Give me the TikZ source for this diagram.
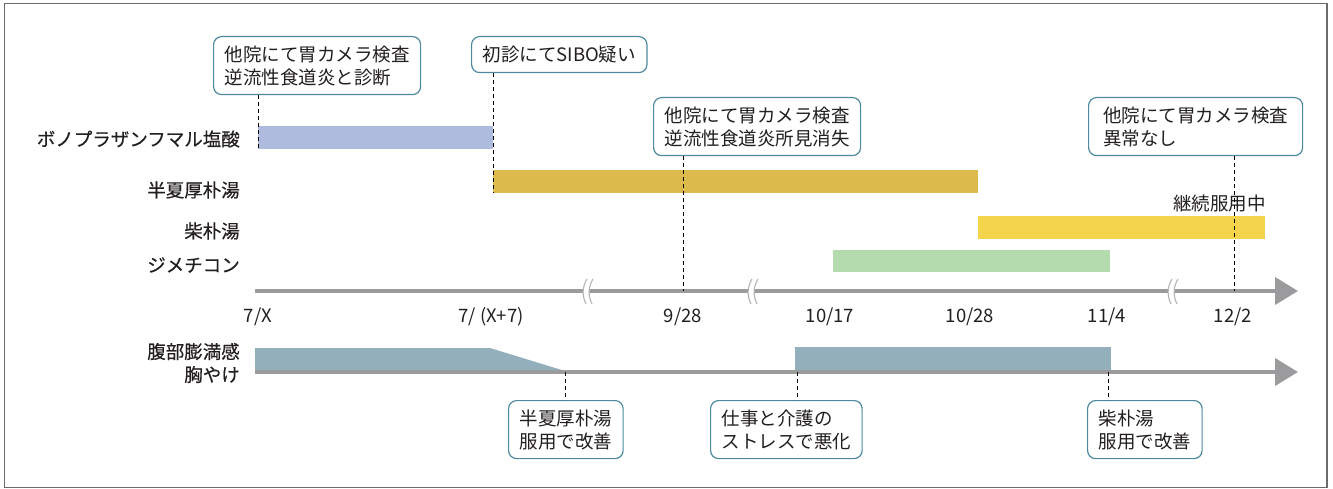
\documentclass[tikz,border=0pt]{standalone}
\usepackage{fontspec}
\setmainfont{Noto Sans CJK JP}
\newfontfamily\jpbold[FakeBold=0.5]{Noto Sans CJK JP}
\usetikzlibrary{arrows.meta}
\definecolor{txt}{HTML}{231F20}
\definecolor{cbord}{HTML}{4D8AA0}
\definecolor{frame}{HTML}{6B6B6B}
\definecolor{axcol}{HTML}{9B9B9E}
\definecolor{brk}{HTML}{B4B4B6}
\definecolor{cbA}{HTML}{AEBBDF}
\definecolor{cbB}{HTML}{DCBB4C}
\definecolor{cbC}{HTML}{F3D44A}
\definecolor{cbD}{HTML}{B3DBAE}
\definecolor{sym}{HTML}{94AFBC}
\tikzset{
  every node/.style={font=\fontsize{18.5}{23}\selectfont, text=txt},
  callout/.style={draw=cbord, line width=1.2pt, fill=white, rounded corners=8pt,
    align=left, inner xsep=11pt, inner ysep=6pt, anchor=north west},
  two/.style={minimum height=58pt},
  one/.style={minimum height=36pt},
  lab/.style={inner sep=0pt, anchor=east},
  boldlab/.style={lab, font=\fontsize{18.5}{23}\selectfont\jpbold},
  tick/.style={inner sep=0pt},
  guide/.style={draw=black, line width=0.9pt, dash pattern=on 4pt off 3pt},
  axisline/.style={draw=axcol, line width=4pt, -{Triangle[length=23pt,width=27pt]}},
  brkline/.style={draw=brk, line width=1.1pt}
}
\begin{document}
\begin{tikzpicture}[x=1pt,y=-1pt]
\useasboundingbox (0,0) rectangle (1333,489);
\draw[frame, line width=1.2pt] (4.5,3.5) rectangle (1327,487.5);

% bars
\fill[cbA] (258,126) rectangle (493,149);
\fill[cbB] (493,170) rectangle (978,193);
\fill[cbC] (978,216) rectangle (1265,239);
\fill[cbD] (833,250) rectangle (1110,272);

% drug labels
\node[boldlab] (l1) at (240,139) {ボノプラザンフマル塩酸};
\node[boldlab] (l2) at (240,190) {半夏厚朴湯};
\node[boldlab] (l3) at (240,231) {柴朴湯};
\node[boldlab] (l4) at (240,265) {ジメチコン};
\node[lab] (cont) at (1266,204) {継続服用中};

% main axis
\coordinate (ax1) at (255,291);
\coordinate (ax2) at (1298,291);
\draw[axisline] (ax1) -- (ax2);
\foreach \bx in {588,753,1173}{
  \fill[white] (\bx-1,279) .. controls (\bx-6,287) and (\bx-6,296) .. (\bx-2,304)
     -- (\bx+4,304) .. controls (\bx,296) and (\bx,287) .. (\bx+5,279) -- cycle;
  \draw[brkline] (\bx-1,279) .. controls (\bx-6,287) and (\bx-6,296) .. (\bx-2,304);
  \draw[brkline] (\bx+5,279) .. controls (\bx,287) and (\bx,296) .. (\bx+4,304);
}

% axis labels
\node[tick] (t1) at (258,317) {7/X};
\node[tick] (t2) at (491,317) {7/ (X+7)};
\node[tick] (t3) at (683,317) {9/28};
\node[tick] (t4) at (830,317) {10/17};
\node[tick] (t5) at (970,317) {10/28};
\node[tick] (t6) at (1107,317) {11/4};
\node[tick] (t7) at (1233,317) {12/2};

% symptom track
\fill[sym] (255,348) -- (490,348) -- (565,371) -- (255,371) -- cycle;
\fill[sym] (795,347) rectangle (1111,371);
\coordinate (bx1) at (255,372);
\coordinate (bx2) at (1298,372);
\draw[axisline] (bx1) -- (bx2);
\node[boldlab, align=right] (s1) at (240,363) {腹部膨満感\\胸やけ};

% callouts
\node[callout, two] (c1) at (213,36) {他院にて胃カメラ検査\\逆流性食道炎と診断};
\node[callout, one] (c2) at (471,36) {初診にてSIBO疑い};
\node[callout, two] (c3) at (653,97) {他院にて胃カメラ検査\\逆流性食道炎所見消失};
\node[callout, two, minimum width=214pt] (c4) at (1088,97) {他院にて胃カメラ検査\\異常なし};
\node[callout, two] (c5) at (508,400) {半夏厚朴湯\\服用で改善};
\node[callout, two] (c6) at (710,400) {仕事と介護の\\ストレスで悪化};
\node[callout, two] (c7) at (1087,400) {柴朴湯\\服用で改善};

% guide lines
\coordinate (d1) at (258,149);
\coordinate (d2) at (493,193);
\coordinate (d3) at (683,291);
\coordinate (d4) at (1234,291);
\coordinate (d5) at (565,372);
\coordinate (d6) at (797,372);
\coordinate (d7) at (1108,372);
\draw[guide] (c1.south -| d1) -- (d1);
\draw[guide] (c2.south -| d2) -- (d2);
\draw[guide] (c3.south -| d3) -- (d3);
\draw[guide] (c4.south -| d4) -- (d4);
\draw[guide] (d5) -- (d5 |- c5.north);
\draw[guide] (d6) -- (d6 |- c6.north);
\draw[guide] (d7) -- (d7 |- c7.north);
\end{tikzpicture}
\end{document}
